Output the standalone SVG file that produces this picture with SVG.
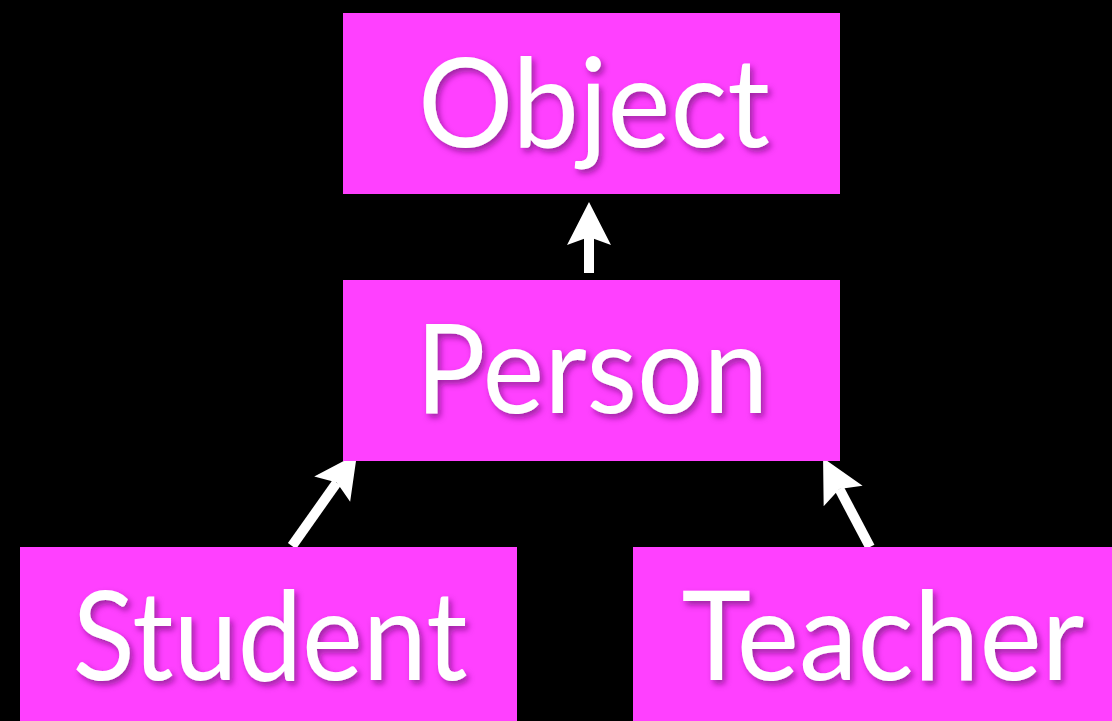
<svg xmlns="http://www.w3.org/2000/svg" width="1112" height="721" viewBox="0 0 1112 721">
  <style>
    .box { fill: #ff40ff; }
    .label { font-family: "Lato", "Open Sans", "Liberation Sans", sans-serif; font-size: 124px; fill: #ffffff; text-anchor: middle; filter: url(#shadow); }
    .link { stroke: #ffffff; stroke-width: 10; fill: none; marker-end: url(#head); }
  </style>
  <defs>
    <filter id="shadow" x="-10%" y="-20%" width="120%" height="150%">
      <feDropShadow dx="3" dy="4" stdDeviation="3" flood-color="#6a0f70" flood-opacity="0.65"/>
    </filter>
    <!-- swept-back arrowhead; reference point sits at the notch so the shaft ends inside the head -->
    <marker id="head" markerUnits="userSpaceOnUse" viewBox="-45 -25 50 50" markerWidth="50" markerHeight="50" refX="-35" refY="0" orient="auto">
      <path d="M0,0 L-43,-22 L-35,0 L-43,22 Z" fill="#ffffff"/>
    </marker>
  </defs>

  <rect width="1112" height="721" fill="#000000"/>

  <g id="connectors">
    <line class="link" x1="589" y1="273" x2="589" y2="237"/>
    <line class="link" x1="292" y1="546" x2="336.8" y2="482.6"/>
    <line class="link" x1="870" y1="547" x2="839.4" y2="489"/>
  </g>

  <g id="object">
    <rect class="box" x="343" y="13" width="497" height="181"/>
    <text class="label" x="594" y="147" textLength="352" lengthAdjust="spacingAndGlyphs">Object</text>
  </g>

  <g id="person">
    <rect class="box" x="343" y="280" width="497" height="181"/>
    <text class="label" x="592" y="413" textLength="353" lengthAdjust="spacingAndGlyphs">Person</text>
  </g>

  <g id="student">
    <rect class="box" x="20" y="547" width="497" height="174"/>
    <text class="label" x="270" y="680" textLength="395" lengthAdjust="spacingAndGlyphs">Student</text>
  </g>

  <g id="teacher">
    <rect class="box" x="633" y="547" width="479" height="174"/>
    <text class="label" x="883" y="680" textLength="403" lengthAdjust="spacingAndGlyphs">Teacher</text>
  </g>
</svg>
